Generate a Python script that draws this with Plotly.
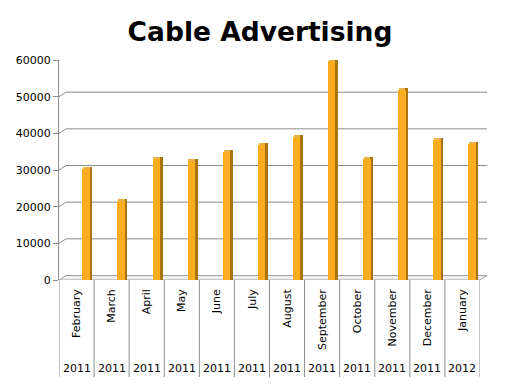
import plotly.graph_objects as go

months = ["February", "March", "April", "May", "June", "July", "August",
          "September", "October", "November", "December", "January"]
years = ["2011", "2011", "2011", "2011", "2011", "2011", "2011",
         "2011", "2011", "2011", "2011", "2012"]
values = [30300, 21600, 33100, 32400, 34900, 36800, 39050,
          59700, 33000, 51700, 38100, 37000]
yticks = [0, 10000, 20000, 30000, 40000, 50000, 60000]
ytick_labels = [str(v) for v in yticks]

PAGE_W, PAGE_H = 531, 387
OFF = 8                      # default body margin of the page
W, H = PAGE_W - 2 * OFF, PAGE_H - 2 * OFF
# plot area in page pixels
px0, px1, py0, py1 = 59, 480, 60, 280
L = px0 - OFF
R = W - (px1 - OFF)
T = py0 - OFF
B = H - (py1 - OFF)
pw = px1 - px0
ph = py1 - py0
ymax = 60000
dx = 7 / pw            # depth offset in paper x
dy = 4.5 * ymax / ph   # depth offset in data y
FONT = "DejaVu Sans"

idx = list(range(len(months)))

fig = go.Figure()
# top face (lighter)
fig.add_trace(go.Bar(x=idx, y=[dy * 0.45] * len(values), base=values,
                     offset=0.19, width=0.25,
                     marker=dict(color="#E9B24A", line=dict(width=0)),
                     hoverinfo="skip", showlegend=False))
# side face (darker)
fig.add_trace(go.Bar(x=idx, y=[v + dy * 0.45 for v in values], offset=0.375, width=0.075,
                     marker=dict(color="#A87410", line=dict(width=0)),
                     hoverinfo="skip", showlegend=False))
# front face
fig.add_trace(go.Bar(x=idx, y=values, offset=0.165, width=0.215,
                     marker=dict(color="#FCAD1F", line=dict(width=0)),
                     showlegend=False))

shapes = []
# floor
shapes.append(dict(type="path", xref="paper", yref="y",
                   path=f"M 0,0 L 1,0 L {1+dx},{dy} L {dx},{dy} Z",
                   fillcolor="#EFEFEF", line=dict(color="#A0A0A0", width=1),
                   layer="below"))
# back-wall gridlines
for v in yticks[1:]:
    shapes.append(dict(type="line", xref="paper", yref="y", x0=0, y0=v,
                       x1=dx, y1=v + dy, line=dict(color="#8C8C8C", width=1),
                       layer="below"))
    shapes.append(dict(type="line", xref="paper", yref="y", x0=dx, y0=v + dy,
                       x1=1 + dx, y1=v + dy, line=dict(color="#8C8C8C", width=1),
                       layer="below"))
# category separators below axis
sep_bottom = -(377 - py1) / ph
for i in range(len(months) + 1):
    shapes.append(dict(type="line", xref="x", yref="paper", x0=i - 0.5, x1=i - 0.5,
                       y0=0, y1=sep_bottom, line=dict(color="#8C8C8C", width=1)))

annotations = []
for i, yr in enumerate(years):
    annotations.append(dict(x=i, y=-(368 - py1) / ph, xref="x", yref="paper",
                            text=yr, showarrow=False, yanchor="middle",
                            font=dict(family=FONT, size=11, color="#000000")))

fig.update_layout(
    width=W, height=H,
    margin=dict(l=L, r=R, t=T, b=B, autoexpand=False),
    paper_bgcolor="white", plot_bgcolor="white",
    barmode="overlay",
    title=dict(text="<b>Cable Advertising</b>", x=(260 - OFF) / W, xanchor="center",
               y=1 - (32 - OFF) / H, yanchor="middle", xref="container", yref="container",
               font=dict(family=FONT, size=26.5, color="#000000")),
    xaxis=dict(tickmode="array", tickvals=idx, ticktext=months, tickangle=-90,
               range=[-0.5, len(months) - 0.5], showgrid=False, zeroline=False,
               showline=False, ticks="", ticklabelstandoff=6,
               tickfont=dict(family=FONT, size=11, color="#000000")),
    yaxis=dict(range=[0, ymax], tickmode="array", tickvals=yticks,
               ticktext=ytick_labels, showgrid=False, zeroline=False,
               showline=True, linecolor="#8C8C8C", linewidth=1,
               ticks="outside", ticklen=5, tickcolor="#8C8C8C",
               tickfont=dict(family=FONT, size=11, color="#000000")),
    shapes=shapes, annotations=annotations,
    bargap=0,
)

fig.write_html("out.html")
